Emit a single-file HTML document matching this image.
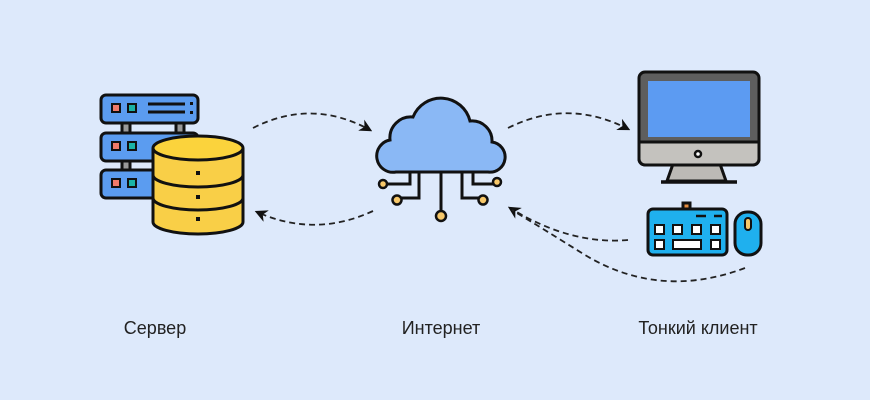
<!DOCTYPE html>
<html><head><meta charset="utf-8"><style>
html,body{margin:0;padding:0;background:#dde9fb;}
svg{display:block}
text{font-family:"Liberation Sans",sans-serif;font-size:18px;fill:#222;}
</style></head><body>
<svg width="870" height="400" viewBox="0 0 870 400" xmlns="http://www.w3.org/2000/svg">
<rect width="870" height="400" fill="#dde9fb"/>
<defs><marker id="ah" viewBox="0 0 10 10" refX="8" refY="5" markerWidth="7" markerHeight="7" orient="auto-start-reverse"><path d="M0,0 L10,5 L0,10 L3,5 z" fill="#111"/></marker></defs>
<g fill="none" stroke="#222" stroke-width="1.8" stroke-dasharray="6,4">
<path d="M253,128 Q312,98 370,130" marker-end="url(#ah)"/>
<path d="M373,211 Q315,238 257,212" marker-end="url(#ah)"/>
<path d="M508,128 Q568,98 628,129" marker-end="url(#ah)"/>
<path d="M628,240 Q570,245 510,208" marker-end="url(#ah)"/>
<path d="M745,268 Q660,300 585,255 Q545,230 512,210"/>
</g>
<!-- server -->
<g stroke="#111" stroke-width="3">
<rect x="122" y="121" width="8" height="12" fill="#999"/><rect x="176" y="121" width="8" height="12" fill="#999"/>
<rect x="122" y="160" width="8" height="12" fill="#999"/>
<rect x="101" y="95" width="97" height="28" rx="5" fill="#5b9cf0"/>
<rect x="101" y="133" width="97" height="28" rx="5" fill="#5b9cf0"/>
<rect x="101" y="170" width="97" height="28" rx="5" fill="#5b9cf0"/>
</g>
<g stroke="#111" stroke-width="2">
<rect x="112" y="104" width="8" height="8" fill="#f07a6a"/><rect x="128" y="104" width="8" height="8" fill="#1ab3a6"/>
<rect x="112" y="142" width="8" height="8" fill="#f07a6a"/><rect x="128" y="142" width="8" height="8" fill="#1ab3a6"/>
<rect x="112" y="179" width="8" height="8" fill="#f07a6a"/><rect x="128" y="179" width="8" height="8" fill="#1ab3a6"/>
</g>
<path d="M148,104H185M148,112H185" stroke="#111" stroke-width="3"/>
<rect x="190" y="102" width="3" height="3" fill="#111"/><rect x="190" y="111" width="3" height="3" fill="#111"/>
<g stroke="#111" stroke-width="3">
<path d="M153,148 V222 A45,12 0 0 0 243,222 V148" fill="#f9cf47"/>
<path d="M153,175 A45,12 0 0 0 243,175 M153,198 A45,12 0 0 0 243,198" fill="none"/>
<ellipse cx="198" cy="148" rx="45" ry="12" fill="#fbd33c"/>
</g>
<rect x="196" y="171" width="4" height="4" fill="#111"/><rect x="196" y="195" width="4" height="4" fill="#111"/><rect x="196" y="217" width="4" height="4" fill="#111"/>
<!-- cloud -->
<g stroke="#111" stroke-width="3" fill="none">
<path d="M396,172 H488 A15,15 0 0 0 492,142 A20,20 0 0 0 470,121 A30,30 0 0 0 413,117 A21,21 0 0 0 390,140 A16,16 0 0 0 396,172 Z" fill="#8ab8f5"/>
<path d="M410,172 V184 H384"/><path d="M419,172 V198 H397"/><path d="M441,172 V212"/><path d="M462,172 V198 H483"/><path d="M473,172 V184 H496"/>
</g>
<g fill="#f7c86a" stroke="#111" stroke-width="2.5">
<circle cx="383" cy="184" r="4"/><circle cx="397" cy="200" r="4.5"/><circle cx="441" cy="216" r="5"/><circle cx="483" cy="200" r="4.5"/><circle cx="497" cy="182" r="4"/>
</g>
<!-- monitor -->
<g stroke="#111" stroke-width="3">
<path d="M673,164 L667,181 H726 L720,164 Z" fill="#bcbab6"/>
<rect x="639" y="72" width="120" height="93" rx="6" fill="#5e5e5e"/>
<path d="M639,142 H759 V159 A6,6 0 0 1 753,165 H645 A6,6 0 0 1 639,159 Z" fill="#c4c2be"/>
<rect x="648" y="81" width="102" height="56" fill="#5c9bf2" stroke="none"/>
<path d="M661,182 H737" stroke-width="3.5"/>
</g>
<circle cx="698" cy="154" r="3" fill="#fff" stroke="#111" stroke-width="2.5"/>
<!-- keyboard -->
<g stroke="#111" stroke-width="3">
<rect x="683" y="203" width="7" height="7" fill="#e88d3f"/>
<rect x="648" y="209" width="79" height="46" rx="5" fill="#1fb0ee"/>
<rect x="735" y="212" width="26" height="43" rx="12" fill="#1fb0ee"/>
</g>
<rect x="745" y="218" width="6" height="12" rx="3" fill="#f7c86a" stroke="#111" stroke-width="2"/>
<g fill="#fff" stroke="#111" stroke-width="2">
<rect x="655" y="225" width="9" height="9"/><rect x="673" y="225" width="9" height="9"/><rect x="692" y="225" width="9" height="9"/><rect x="711" y="225" width="9" height="9"/>
<rect x="655" y="240" width="9" height="9"/><rect x="673" y="240" width="28" height="9"/><rect x="711" y="240" width="9" height="9"/>
</g>
<path d="M696,216H706M714,216H722" stroke="#111" stroke-width="2.5"/>
<text x="155" y="334" text-anchor="middle">Сервер</text>
<text x="441" y="334" text-anchor="middle">Интернет</text>
<text x="698" y="334" text-anchor="middle">Тонкий клиент</text>
</svg>
</body></html>
